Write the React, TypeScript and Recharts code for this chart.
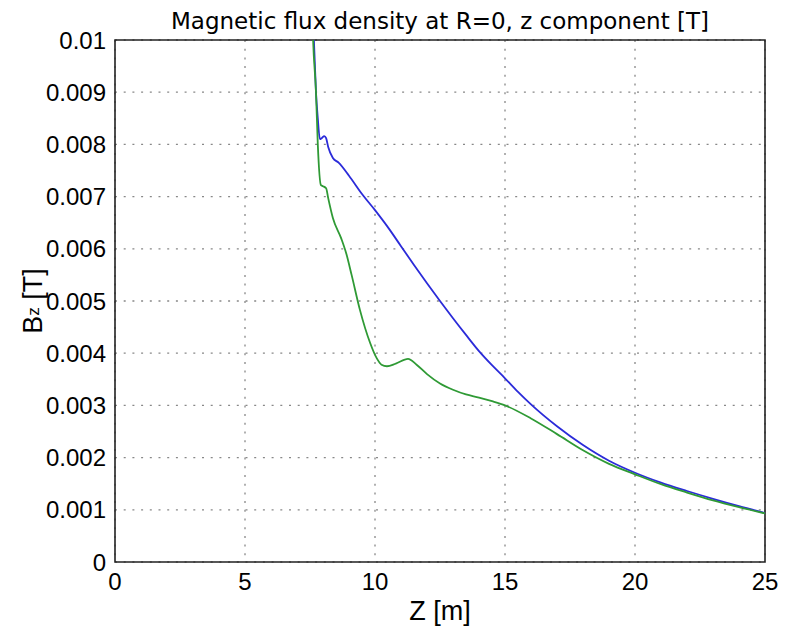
import { LineChart, Line, XAxis, YAxis, CartesianGrid, ReferenceArea } from "recharts";

// Z [m] and Bz [T], two curves
const blueZ = [7.5, 7.65, 7.73, 7.8, 7.88, 7.95, 8.05, 8.12, 8.2, 8.38, 8.6, 9.0, 9.5, 10.0, 10.5, 11.0, 11.5, 12.0, 12.5, 13.0, 13.5, 14.0, 14.5, 15.0, 15.5, 16.0, 17.0, 18.0, 19.0, 20.0, 21.0, 22.0, 23.0, 24.0, 25.0];
const blueB = [0.0125, 0.01, 0.009, 0.0085, 0.0081, 0.00812, 0.00816, 0.00812, 0.00795, 0.00774, 0.00765, 0.0074, 0.00705, 0.00674, 0.00641, 0.00605, 0.00569, 0.00534, 0.005, 0.00467, 0.00435, 0.00404, 0.00377, 0.00352, 0.00326, 0.00302, 0.0026, 0.00224, 0.00194, 0.00171, 0.00152, 0.00136, 0.00121, 0.00107, 0.00094];

const greenZ = [7.5, 7.62, 7.73, 7.8, 7.92, 8.0, 8.12, 8.2, 8.38, 8.7, 8.9, 9.1, 9.42, 9.81, 10.07, 10.25, 10.46, 10.8, 11.27, 11.6, 12.0, 12.5, 13.0, 13.5, 14.0, 14.5, 15.0, 16.0, 17.0, 18.0, 19.0, 20.0, 21.0, 22.0, 23.0, 24.0, 25.0];
const greenB = [0.0125, 0.01, 0.009, 0.008, 0.00722, 0.0072, 0.00716, 0.00697, 0.00659, 0.0062, 0.0059, 0.0055, 0.00483, 0.0042, 0.0039, 0.00378, 0.00375, 0.0038, 0.00389, 0.00378, 0.0036, 0.00342, 0.0033, 0.00321, 0.00315, 0.00308, 0.003, 0.00275, 0.00245, 0.00214, 0.00188, 0.00168, 0.00149, 0.00133, 0.00118, 0.00105, 0.00093];

const xTicks = [0, 5, 10, 15, 20, 25];
const yTicks = [0, 0.001, 0.002, 0.003, 0.004, 0.005, 0.006, 0.007, 0.008, 0.009, 0.01];

const blueData = blueZ.map((z, i) => ({ z, b: blueB[i] }));
const greenData = greenZ.map((z, i) => ({ z, b: greenB[i] }));

const tickFont = { fontSize: 24, fill: "#000", fontFamily: "Liberation Sans, Arial, sans-serif" };

export default function App() {
  return (
    <div style={{ position: "absolute", left: 0, top: 0 }}>
      <LineChart width={791} height={629} margin={{ top: 40, right: 26, left: 0, bottom: 0 }}>
        <CartesianGrid stroke="#888" strokeDasharray="2 6.7" strokeWidth={1.3} />
        <XAxis
          type="number"
          dataKey="z"
          domain={[0, 25]}
          ticks={xTicks}
          allowDataOverflow
          height={67}
          tickSize={0}
          tickMargin={11}
          axisLine={false}
          tick={tickFont}
        />
        <YAxis
          type="number"
          dataKey="b"
          domain={[0, 0.01]}
          ticks={yTicks}
          allowDataOverflow
          width={115}
          tickSize={0}
          tickMargin={9}
          axisLine={false}
          tick={tickFont}
          tickFormatter={(v: number) => (v === 0 ? "0" : String(Number(v.toFixed(3))))}
        />
        <Line data={blueData} dataKey="b" type="monotone" stroke="#2b2bd9" strokeWidth={1.8} dot={false} isAnimationActive={false} />
        <Line data={greenData} dataKey="b" type="monotone" stroke="#2f9a35" strokeWidth={1.8} dot={false} isAnimationActive={false} />
        <ReferenceArea x1={0} x2={25} y1={0} y2={0.01} fill="none" stroke="#222" strokeWidth={1.6} />
        <text x={440} y={29} textAnchor="middle" fontSize={23} fontFamily="DejaVu Sans, sans-serif" fill="#000">
          Magnetic flux density at R=0, z component [T]
        </text>
        <text x={440} y={620} textAnchor="middle" fontSize={27} fontFamily="Liberation Sans, Arial, sans-serif" fill="#000">
          Z [m]
        </text>
        <text transform="translate(42,301) rotate(-90)" textAnchor="middle" fontSize={27} fontFamily="Liberation Sans, Arial, sans-serif" fill="#000">
          B<tspan fontSize={17} dy={-3}>z</tspan>
          <tspan dy={3}> [T]</tspan>
        </text>
      </LineChart>
    </div>
  );
}
